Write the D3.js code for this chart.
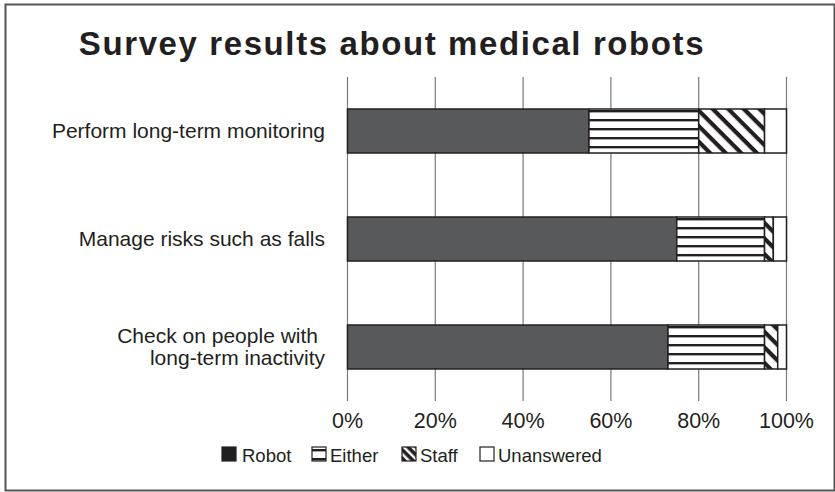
<!DOCTYPE html>
<html>
<head>
<meta charset="utf-8">
<script src="https://cdn.jsdelivr.net/npm/d3@7"></script>
<style>
  body { margin: 0; background: #fff; }
  svg text { font-family: "Liberation Sans", Arial, sans-serif; fill: #231f20; }
</style>
</head>
<body>
<div id="chart"></div>
<script>
// Data
const categories = ["Perform long-term monitoring", "Manage risks such as falls", "Check on people with|long-term inactivity"];
const seriesNames = ["Robot", "Either", "Staff", "Unanswered"];
const robot = [55, 75, 73];
const either = [25, 20, 22];
const staff = [15, 2, 3];
const unanswered = [5, 3, 2];
const tickValues = [0, 20, 40, 60, 80, 100];

const W = 835, H = 492;

const rows = categories.map((c, i) => ({
    category: c,
    Robot: robot[i],
    Either: either[i],
    Staff: staff[i],
    Unanswered: unanswered[i]
}));

const svg = d3.select("#chart")
    .append("svg")
        .attr("width", W)
        .attr("height", H)
;

// patterns
const defs = svg.append("defs");
const hp = defs.append("pattern")
    .attr("id", "hstripe")
    .attr("patternUnits", "userSpaceOnUse")
    .attr("width", 10)
    .attr("height", 9)
    .attr("y", 1)
;
hp.append("rect").attr("width", 10).attr("height", 9).attr("fill", "#fff");
hp.append("rect").attr("y", 1).attr("width", 10).attr("height", 2.4).attr("fill", "#231f20");

const dp = defs.append("pattern")
    .attr("id", "diag")
    .attr("patternUnits", "userSpaceOnUse")
    .attr("width", 12)
    .attr("height", 11)
    .attr("patternTransform", "rotate(45)")
;
dp.append("rect").attr("width", 12).attr("height", 11).attr("fill", "#fff");
dp.append("rect").attr("y", 0).attr("width", 12).attr("height", 4.2).attr("fill", "#231f20");

const dps = defs.append("pattern")
    .attr("id", "diagSmall")
    .attr("patternUnits", "userSpaceOnUse")
    .attr("width", 8)
    .attr("height", 6)
    .attr("patternTransform", "rotate(45)")
;
dps.append("rect").attr("width", 8).attr("height", 6).attr("fill", "#fff");
dps.append("rect").attr("width", 8).attr("height", 3.6).attr("fill", "#231f20");

const fills = {
    Robot: "#58595b",
    Either: "url(#hstripe)",
    Staff: "url(#diag)",
    Unanswered: "#fff"
};

// outer frame
svg.append("rect")
    .attr("x", 5.5).attr("y", 4.5)
    .attr("width", 829).attr("height", 486)
    .attr("fill", "none")
    .attr("stroke", "#555")
    .attr("stroke-width", 2)
;

// scales
const x = d3.scaleLinear().domain([0, 100]).range([347.5, 786.5]);
const y = d3.scaleBand().domain(categories).range([77, 401]).padding(0);
const barH = 44;

// gridlines
svg.append("g")
    .attr("class", "gridlines")
    .selectAll("line")
        .data(tickValues)
        .join("line")
            .attr("x1", d => x(d))
            .attr("x2", d => x(d))
            .attr("y1", 77)
            .attr("y2", 401)
            .attr("stroke", "#7a7a7a")
            .attr("stroke-width", 1.2)
;

// x tick labels
svg.append("g")
    .selectAll("text")
        .data(tickValues)
        .join("text")
            .attr("x", d => x(d))
            .attr("y", 428)
            .attr("text-anchor", "middle")
            .style("font-size", "21.5px")
            .text(d => d + "%")
;

// stacked bars
const stack = d3.stack().keys(seriesNames);
const series = stack(rows);

svg.append("g")
    .attr("id", "bars")
    .selectAll("g")
        .data(series)
        .join("g")
            .attr("fill", d => fills[d.key])
        .selectAll("rect")
            .data(d => d)
            .join("rect")
                .attr("x", d => x(d[0]))
                .attr("width", d => x(d[1]) - x(d[0]))
                .attr("y", d => y(d.data.category) + (y.bandwidth() - barH) / 2)
                .attr("height", barH)
                .attr("stroke", "#231f20")
                .attr("stroke-width", 1.5)
;

// category labels
const labels = svg.append("g")
    .selectAll("text")
        .data(categories)
        .join("text")
            .attr("text-anchor", "end")
            .style("font-size", "21px")
            .attr("y", d => y(d) + y.bandwidth() / 2)
;
labels.each(function (d) {
    const parts = d.split("|");
    const t = d3.select(this);
    parts.forEach((p, i) => {
        t.append("tspan")
            .attr("x", i === 0 && parts.length > 1 ? 318 : 325)
            .attr("dy", i === 0 ? (0.35 - (parts.length - 1) * 0.52) + "em" : "1.05em")
            .text(p);
    });
});

// title
svg.append("text")
    .attr("x", 392)
    .attr("y", 55)
    .attr("text-anchor", "middle")
    .style("font-size", "33px")
    .style("font-weight", "bold")
    .style("letter-spacing", "1.6px")
    .text("Survey results about medical robots")
;

// legend
const legendItems = [
    { key: "Robot", x: 222 },
    { key: "Either", x: 312 },
    { key: "Staff", x: 402 },
    { key: "Unanswered", x: 480 }
];
const legendFills = { Robot: "#231f20", Either: "url(#hstripe)", Staff: "url(#diagSmall)", Unanswered: "#fff" };
const lg = svg.append("g")
    .attr("id", "legend")
    .selectAll("g")
        .data(legendItems)
        .join("g")
            .attr("transform", d => `translate(${d.x},447)`)
;
lg.append("rect")
    .attr("width", 14)
    .attr("height", 14)
    .attr("fill", d => legendFills[d.key])
    .attr("stroke", "#231f20")
    .attr("stroke-width", 1.2)
;
lg.append("text")
    .attr("x", d => d.key === "Robot" ? 20 : 18)
    .attr("y", 14.5)
    .style("font-size", "18.5px")
    .text(d => d.key)
;
</script>
</body>
</html>
